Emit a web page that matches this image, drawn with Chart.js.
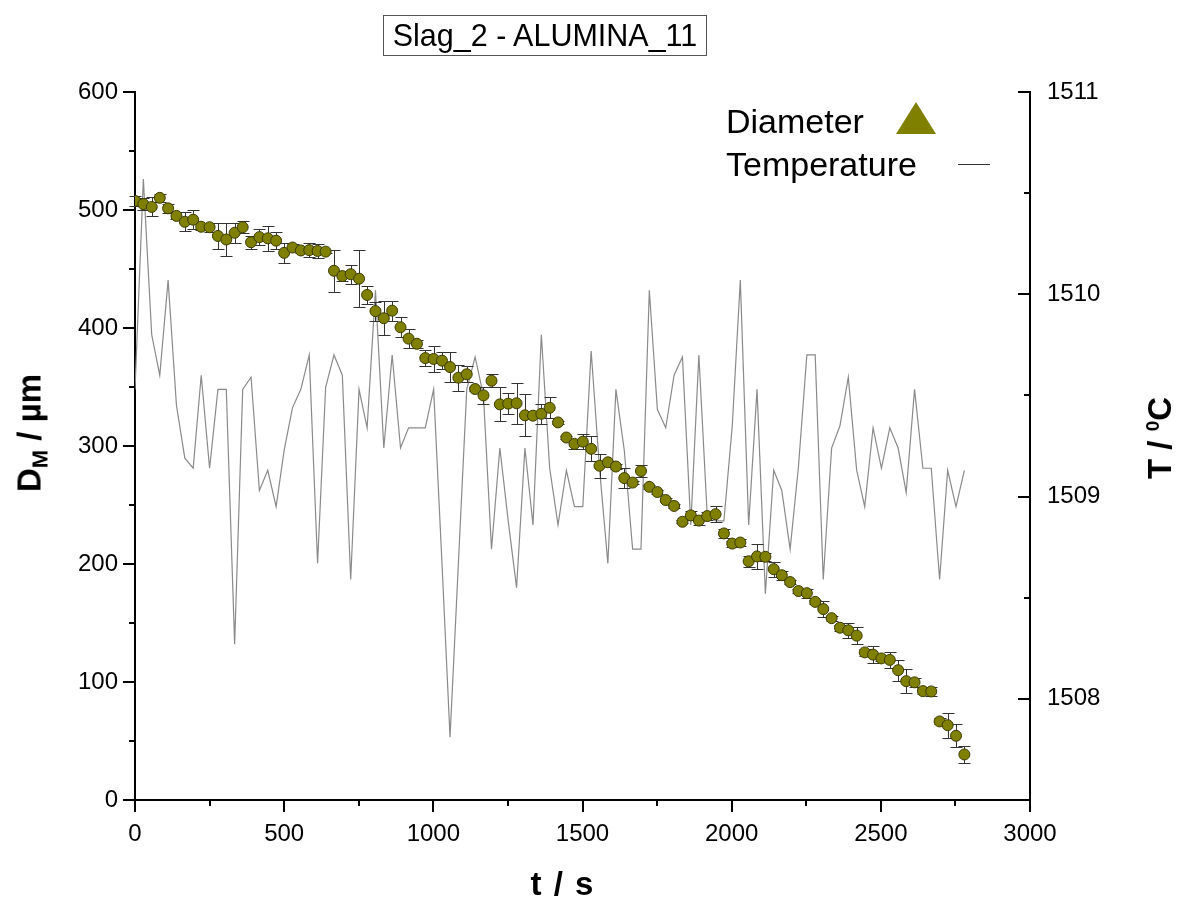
<!DOCTYPE html>
<html>
<head>
<meta charset="utf-8">
<script src="https://cdn.jsdelivr.net/npm/chart.js@4.4.0/dist/chart.umd.min.js"></script>
<style>
  body { margin: 0; background: #fff; }
  #wrap { position: relative; width: 1180px; height: 901px; font-family: "Liberation Sans", Arial, sans-serif; color: #000; }
  #chart { position: absolute; left: 0; top: 0; }
  .box { position: absolute; left: 383px; top: 15px; width: 322px; height: 39px; border: 1px solid #555; font-size: 30.5px; line-height: 39px; text-align: center; }
  .lab { position: absolute; font-size: 34px; line-height: 38px; white-space: nowrap; }
  .axt { position: absolute; font-weight: bold; font-size: 33px; white-space: nowrap; transform: translate(-50%, -50%); }
  .rot { transform: translate(-50%, -50%) rotate(-90deg); }
  sub { font-size: 22px; vertical-align: -7px; }
  sup { font-size: 19px; vertical-align: 12px; }
</style>
</head>
<body>
<div id="wrap">
  <canvas id="chart" width="1180" height="901"></canvas>
  <div class="box">Slag_2 - ALUMINA_11</div>
  <div class="lab" style="left:726px; top:102px;">Diameter</div>
  <svg style="position:absolute; left:895px; top:101px;" width="42" height="34"><polygon points="21,1 41,33 1,33" fill="#808000"/></svg>
  <div class="lab" style="left:726px; top:145px;">Temperature</div>
  <div style="position:absolute; left:958px; top:164px; width:32px; height:1px; background:#333;"></div>
  <div class="axt rot" style="left:32px; top:433px;">D<sub>M</sub> / µm</div>
  <div class="axt rot" style="left:1160px; top:438px;">T / <sup>0</sup>C</div>
  <div class="axt" style="left:562px; top:884px; word-spacing:3px;">t / s</div>
</div>
<script>
// time (s)
const times = [0,28,56,83,111,139,167,195,222,250,278,306,334,361,389,417,445,473,500,528,
  556,584,612,639,667,695,723,751,778,806,834,862,890,917,945,973,1001,1029,1056,1084,
  1112,1140,1168,1195,1223,1251,1279,1307,1334,1362,1390,1418,1446,1473,1501,1529,1557,1585,1612,1640,
  1668,1696,1724,1751,1779,1807,1835,1863,1890,1918,1946,1974,2002,2029,2057,2085,2113,2141,2168,2196,
  2224,2252,2280,2307,2335,2363,2391,2419,2446,2474,2502,2530,2558,2585,2613,2641,2669,2697,2724,2752,2780];

// diameter D_M (um)
const diameter = [507.7,505,502.6,510.3,501.4,495,490,491.8,485.8,485.4,
  478,475,480.7,485.4,472.7,477,476,474,463.7,468.2,
  465.7,466,465.3,464.7,448.5,444,445.6,441.8,428,414.3,
  408.3,414.7,400.6,391,386.6,374.5,373.8,372.3,366.9,357.9,
  360.8,348.3,342.9,355.3,335.3,335.9,336.2,326,325.7,327.3,
  332.4,320,307.2,301.8,303.7,297.6,283.3,286.2,282.6,272.8,
  269,278.8,265.4,261,254.2,249.2,235.8,241.2,236.8,240.6,
  242.2,225.9,217.3,218.2,202.3,206.4,206.1,195.6,190.5,184.7,
  177.1,175.3,167.9,161.8,154.1,146,143.8,139.3,125.1,123.2,
  120,118.7,110,100.7,99.7,92.3,92,66.6,63.4,54.4,38.6];

// error of diameter (um)
const diameterErr = [4,5,8,3.4,4,3,8,8,3,4,
  11,14,8.5,5,5.6,7,10.7,7,8.5,3,
  2.5,6,5.6,1.5,17.6,4,8.2,24,7.6,8,
  14.4,8.5,8.5,8,3.4,7,11.3,7.4,13,11,
  6.8,2,7,5.6,14.4,8.8,17.5,17.8,1.4,8.5,
  8.8,1.4,1.4,4,6.5,10.5,10,1.4,2.3,8.8,
  1.4,4.8,1.7,1.4,1.4,1.4,1.4,4,4,3.5,
  7,4,2.5,3,4.6,10.8,3.4,6.3,3.7,2,
  2,3.9,2,7,2,2.6,6.4,7,3.2,7,
  2,6.8,8.8,10.4,4,2.6,4,2.6,10.7,9.8,7];

// temperature (C)
const temperature = [1509.53,1510.57,1509.80,1509.60,1510.07,1509.45,1509.19,1509.14,1509.60,1509.14,
  1509.53,1509.53,1508.27,1509.53,1509.59,1509.03,1509.13,1508.95,1509.23,1509.44,
  1509.53,1509.70,1508.67,1509.54,1509.70,1509.60,1508.59,1509.53,1509.34,1510.02,
  1509.24,1509.70,1509.24,1509.34,1509.34,1509.34,1509.53,1508.67,1507.81,1508.67,
  1509.53,1509.69,1509.50,1508.74,1509.24,1508.88,1508.55,1509.24,1508.86,1509.80,
  1509.14,1508.86,1509.13,1508.95,1508.95,1509.72,1509.14,1508.67,1509.53,1509.23,
  1508.74,1508.74,1510.02,1509.43,1509.34,1509.60,1509.69,1508.86,1509.70,1508.91,
  1508.88,1508.88,1509.35,1510.07,1508.86,1509.53,1508.52,1509.13,1509.03,1508.74,
  1509.15,1509.70,1509.70,1508.59,1509.24,1509.35,1509.59,1509.13,1508.95,1509.34,
  1509.14,1509.34,1509.24,1509.02,1509.53,1509.14,1509.14,1508.59,1509.13,1508.95,1509.13];

// axis ticks
const xTicks = [0,500,1000,1500,2000,2500,3000];
const xMinor = [250,750,1250,1750,2250,2750];
const yTicks = [0,100,200,300,400,500,600];
const yMinor = [50,150,250,350,450,550];
const tTicks = [1508,1509,1510,1511];
const tMinor = [1508.5,1509.5,1510.5];

const FONT = '"Liberation Sans", Arial, sans-serif';

const extras = {
  id: 'extras',
  beforeDatasetDraw(chart, args) {
    if (args.index !== 0) return;
    const ctx = chart.ctx, x = chart.scales.x, y = chart.scales.y;
    ctx.save();
    ctx.strokeStyle = '#333';
    ctx.lineWidth = 1;
    times.forEach((t, i) => {
      const px = Math.round(x.getPixelForValue(t)) + 0.5;
      const top = Math.round(y.getPixelForValue(diameter[i] + diameterErr[i])) + 0.5;
      const bot = Math.round(y.getPixelForValue(diameter[i] - diameterErr[i])) + 0.5;
      ctx.beginPath();
      ctx.moveTo(px, top); ctx.lineTo(px, bot);
      ctx.moveTo(px - 6, top); ctx.lineTo(px + 6, top);
      ctx.moveTo(px - 6, bot); ctx.lineTo(px + 6, bot);
      ctx.stroke();
    });
    ctx.restore();
  },
  afterDraw(chart) {
    const ctx = chart.ctx, s = chart.scales;
    const a = chart.chartArea;
    ctx.save();
    ctx.strokeStyle = '#000';
    ctx.lineWidth = 2;
    const tick = (x1, y1, x2, y2) => { ctx.beginPath(); ctx.moveTo(x1, y1); ctx.lineTo(x2, y2); ctx.stroke(); };
    yTicks.forEach(v => { const p = Math.round(s.y.getPixelForValue(v)); tick(a.left, p, a.left - 12, p); });
    yMinor.forEach(v => { const p = Math.round(s.y.getPixelForValue(v)); tick(a.left, p, a.left - 6, p); });
    xTicks.forEach(v => { const p = Math.round(s.x.getPixelForValue(v)); tick(p, a.bottom, p, a.bottom + 12); });
    xMinor.forEach(v => { const p = Math.round(s.x.getPixelForValue(v)); tick(p, a.bottom, p, a.bottom + 6); });
    tTicks.forEach(v => { const p = Math.round(s.y1.getPixelForValue(v)); tick(a.right, p, a.right - 12, p); });
    tMinor.forEach(v => { const p = Math.round(s.y1.getPixelForValue(v)); tick(a.right, p, a.right - 6, p); });
    ctx.restore();
  }
};

const tickFont = { family: FONT, size: 24 };

new Chart(document.getElementById('chart'), {
  type: 'scatter',
  data: {
    datasets: [
      {
        label: 'Diameter',
        data: times.map((t, i) => ({ x: t, y: diameter[i] })),
        backgroundColor: '#808000',
        borderColor: '#3a3a00',
        borderWidth: 1,
        pointRadius: 5.5,
        yAxisID: 'y',
        order: 1
      },
      {
        type: 'line',
        label: 'Temperature',
        data: times.map((t, i) => ({ x: t, y: temperature[i] })),
        borderColor: '#8a8a8a',
        borderWidth: 1.2,
        pointRadius: 0,
        tension: 0,
        fill: false,
        yAxisID: 'y1',
        order: 2
      }
    ]
  },
  options: {
    responsive: false,
    animation: false,
    devicePixelRatio: 1,
    layout: { padding: { top: 92, left: 0, right: 0, bottom: 0 } },
    plugins: { legend: { display: false }, tooltip: { enabled: false } },
    scales: {
      x: {
        type: 'linear', min: 0, max: 3000,
        afterBuildTicks: sc => { sc.ticks = xTicks.map(v => ({ value: v })); },
        ticks: { font: tickFont, color: '#000', padding: 20, maxRotation: 0, autoSkip: false, callback: v => String(v) },
        grid: { display: false, tickLength: 0 },
        border: { display: true, color: '#000', width: 2 },
        afterFit: sc => { sc.height = 101; }
      },
      y: {
        position: 'left', min: 0, max: 600,
        afterBuildTicks: sc => { sc.ticks = yTicks.map(v => ({ value: v })); },
        ticks: { font: tickFont, color: '#000', padding: 17, autoSkip: false, callback: v => String(v) },
        grid: { display: false, tickLength: 0 },
        border: { display: true, color: '#000', width: 2 },
        afterFit: sc => { sc.width = 135; }
      },
      y1: {
        position: 'right', min: 1507.5, max: 1511,
        afterBuildTicks: sc => { sc.ticks = tTicks.map(v => ({ value: v })); },
        ticks: { font: tickFont, color: '#000', padding: 17, autoSkip: false, callback: v => String(v) },
        grid: { display: false, tickLength: 0 },
        border: { display: true, color: '#000', width: 2 },
        afterFit: sc => { sc.width = 150; }
      }
    }
  },
  plugins: [extras]
});
</script>
</body>
</html>
